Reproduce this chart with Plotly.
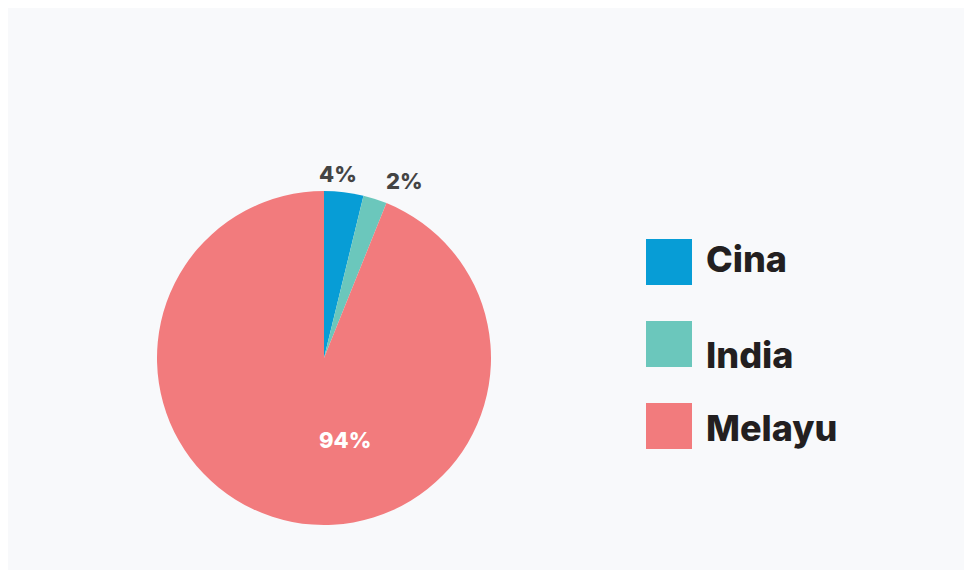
import math
import plotly.graph_objects as go

categories = ["Cina", "India", "Melayu"]
values = [3.8, 2.3, 93.9]
value_labels = ["4%", "2%", "94%"]
colors = ["#079dd6", "#6bc7bc", "#f27b7d"]

# page offset of the plot div (browser default body margin)
OFF = 8
W, H = 964 - OFF, 570 - OFF


def px(x):
    return (x - OFF) / W


def py(y):
    return 1 - (y - OFF) / H


CX, CY, R = 324, 358, 167

fig = go.Figure()
fig.add_trace(go.Pie(
    labels=categories,
    values=values,
    textinfo="none",
    marker=dict(colors=colors, line=dict(width=0)),
    sort=False,
    direction="clockwise",
    rotation=0,
    showlegend=False,
    hoverinfo="label+percent",
    domain=dict(x=[px(CX - R), px(CX + R)], y=[py(CY + R), py(CY - R)]),
))

annotations = []
# value labels placed from each slice's mid-angle
total = sum(values)
cum = 0
label_font = dict(family="Inter, Open Sans, sans-serif", size=22, weight=800)
for i, (v, lab) in enumerate(zip(values, value_labels)):
    mid = (cum + v / 2) / total * 2 * math.pi
    cum += v
    if v / total < 0.1:
        d = R + 3
        x = CX + d * math.sin(mid)
        y = CY - d * math.cos(mid)
        top_label = math.sin(mid) < 0.2
        annotations.append(dict(text=lab, xref="paper", yref="paper", x=px(x), y=py(y),
                                xanchor="center" if top_label else "left",
                                xshift=-6 if top_label else 8,
                                yanchor="bottom", showarrow=False,
                                font=dict(label_font, color="#444444")))
    else:
        annotations.append(dict(text=lab, xref="paper", yref="paper",
                                x=px(CX + 21), y=py(CY + 82),
                                xanchor="center", yanchor="middle", showarrow=False,
                                font=dict(label_font, color="#ffffff")))

shapes = []
sq_tops = [239, 321, 403]
txt_centers = [259, 355, 428]
for cat, col, top, tc in zip(categories, colors, sq_tops, txt_centers):
    shapes.append(dict(type="rect", xref="paper", yref="paper",
                       x0=px(646), x1=px(692), y0=py(top + 46), y1=py(top),
                       fillcolor=col, line=dict(width=0)))
    annotations.append(dict(text=cat, xref="paper", yref="paper",
                            x=px(704), y=py(tc), xanchor="left", yanchor="middle",
                            showarrow=False,
                            font=dict(family="Inter, Open Sans, sans-serif", size=36,
                                      color="#231f20", weight=800)))

fig.update_layout(
    width=W, height=H,
    margin=dict(l=0, r=0, t=0, b=0),
    paper_bgcolor="#f8f9fb",
    plot_bgcolor="#f8f9fb",
    shapes=shapes,
    annotations=annotations,
)

fig.write_html("out.html")
